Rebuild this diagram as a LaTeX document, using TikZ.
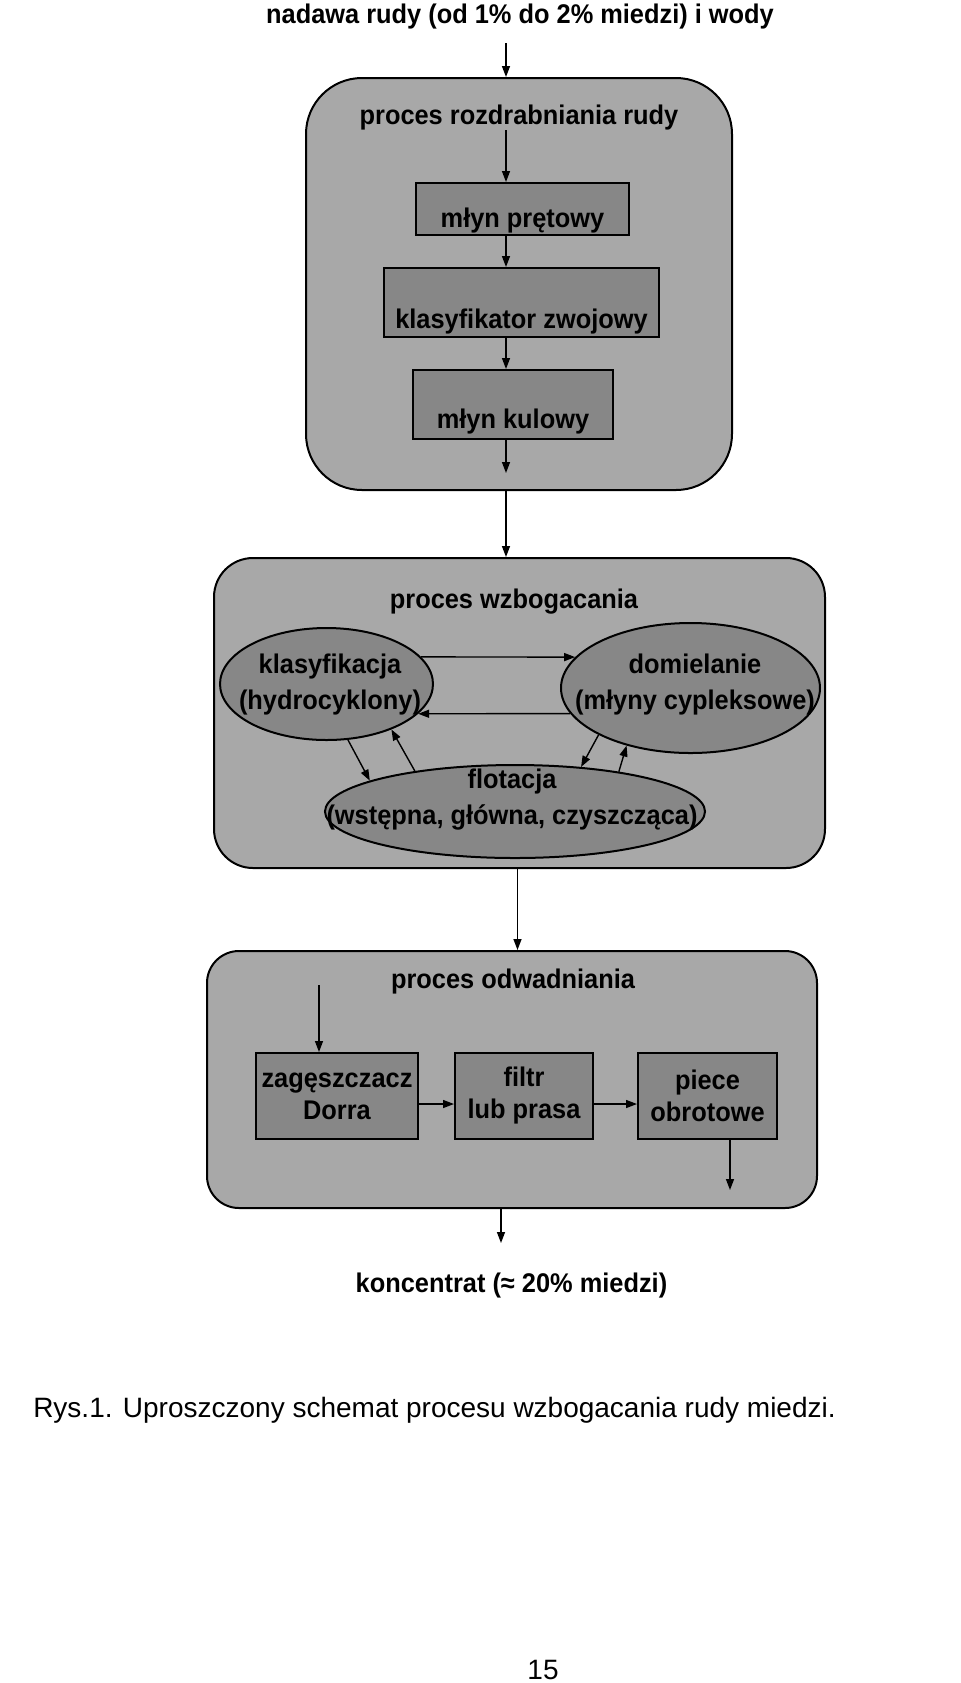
\documentclass[tikz,border=0pt]{standalone}
\usepackage{fontspec}
\setmainfont{Liberation Sans}
\newfontfamily\dfont[FakeStretch=0.94]{Liberation Sans}
\usepackage{tikz}
\usetikzlibrary{shapes.geometric,arrows.meta}
\definecolor{grpfill}{gray}{0.66}
\definecolor{unitfill}{gray}{0.53}

\begin{document}
\begin{tikzpicture}
            [every node/.style={inner sep=0pt, font=\dfont\bfseries\fontsize{13.5pt}{18pt}\selectfont},
             grp/.style={rectangle, rounded corners=#1, fill=grpfill, line width=1pt, draw=black},
             unit/.style={rectangle, fill=unitfill, line width=1pt, draw=black},
             oval/.style={ellipse, fill=unitfill, line width=1pt, draw=black},
             twoline/.style={align=center, font=\dfont\bfseries\fontsize{13.5pt}{16pt}\selectfont},
             plain/.style={font=\rmfamily\mdseries\fontsize{14pt}{17pt}\selectfont},
             arr/.style={line width=0.7pt, -{Triangle[length=5.5pt, width=4pt]}, color=black}]
                \useasboundingbox (0pt, 0pt) rectangle (480pt, -841.5pt);
                \node (0) at (260pt, -8.5pt) {nadawa rudy (od 1\% do 2\% miedzi) i wody};
                \node (1) [grp=28pt, minimum width=213pt, minimum height=206pt] at (259.5pt, -142pt) {};
                \node (2) at (259.5pt, -59pt) {proces rozdrabniania rudy};
                \node (3) [unit, minimum width=106.5pt, text height=22pt, text depth=4pt] at (261.25pt, -104.5pt) {młyn prętowy};
                \node (4) [unit, minimum width=137.5pt, text height=30pt, text depth=4.5pt] at (260.75pt, -151.25pt) {klasyfikator zwojowy};
                \node (5) [unit, minimum width=100pt, text height=29pt, text depth=5.5pt] at (256.5pt, -202.25pt) {młyn kulowy};
                \node (6) [grp=19.5pt, minimum width=305.5pt, minimum height=155pt] at (259.75pt, -356.5pt) {};
                \node (7) at (257pt, -301pt) {proces wzbogacania};
                \node (8) [oval, minimum width=106.5pt, minimum height=56pt] at (163.25pt, -342pt) {};
                \node (9) [oval, minimum width=129.5pt, minimum height=65pt] at (345.25pt, -344pt) {};
                \node (10) [oval, minimum width=190pt, minimum height=46.5pt] at (257.5pt, -405.75pt) {};
                \node (8t) [align=center] at (165pt, -342.5pt) {klasyfikacja\\(hydrocyklony)};
                \node (9t) [align=center] at (347.5pt, -342.5pt) {domielanie\\(młyny cypleksowe)};
                \node (10t) [align=center] at (256pt, -399.75pt) {flotacja\\(wstępna, główna, czyszcząca)};
                \node (12) [grp=16pt, minimum width=305pt, minimum height=128.5pt] at (256pt, -539.75pt) {};
                \node (13) at (256.5pt, -491pt) {proces odwadniania};
                \node (14) [unit, twoline, minimum width=81pt, minimum height=43pt] at (168.5pt, -548pt) {zagęszczacz\\Dorra};
                \node (15) [unit, twoline, minimum width=69pt, minimum height=43pt] at (262pt, -548pt) {filtr\\lub prasa};
                \node (16) [unit, twoline, minimum width=69.5pt, minimum height=43pt] at (353.75pt, -548pt) {piece\\obrotowe};
                \node (17) at (255.75pt, -643pt) {koncentrat (≈ 20\% miedzi)};
                \node (18) [plain] at (217.25pt, -705pt) {Rys.1. Uproszczony schemat procesu wzbogacania rudy miedzi.};
                \node (19) [plain] at (271.5pt, -835pt) {15};
                \coordinate (c0) at (253pt, -21.5pt);
                \coordinate (c1) at (253pt, -65pt);
                \coordinate (c2) at (253pt, -236.5pt);
                \coordinate (c3) at (258.75pt, -450pt);
                \coordinate (c4) at (159.5pt, -492.5pt);
                \coordinate (c5) at (365pt, -595pt);
                \coordinate (c6) at (250.5pt, -621.5pt);
                \draw [arr] (c0) to (c0 |- 1.north);
                \draw [arr] (c1) to (c1 |- 3.north);
                \draw [arr] (c1 |- 3.south) to (c1 |- 4.north);
                \draw [arr] (c1 |- 4.south) to (c1 |- 5.north);
                \draw [arr] (c1 |- 5.south) to (c2);
                \draw [arr] (c1 |- 1.south) to (c1 |- 6.north);
                \draw [arr] (8.16) to (9.165);
                \draw [arr] (9.192) to (8.-18);
                \draw [arr] (8.-69) to (10.168);
                \draw [arr] (10.158) to (8.-35);
                \draw [arr] (9.207) to (10.34);
                \draw [arr] (10.21) to (9.222);
                \draw [arr] (c3 |- 6.south) to (c3 |- 12.north);
                \draw [arr] (c4) to (c4 |- 14.north);
                \draw [arr] ([yshift=-4pt]14.east) to ([yshift=-4pt]15.west);
                \draw [arr] ([yshift=-4pt]15.east) to ([yshift=-4pt]16.west);
                \draw [arr] (c5 |- 16.south) to (c5);
                \draw [arr] (c6 |- 12.south) to (c6);
            \end{tikzpicture}
\end{document}
